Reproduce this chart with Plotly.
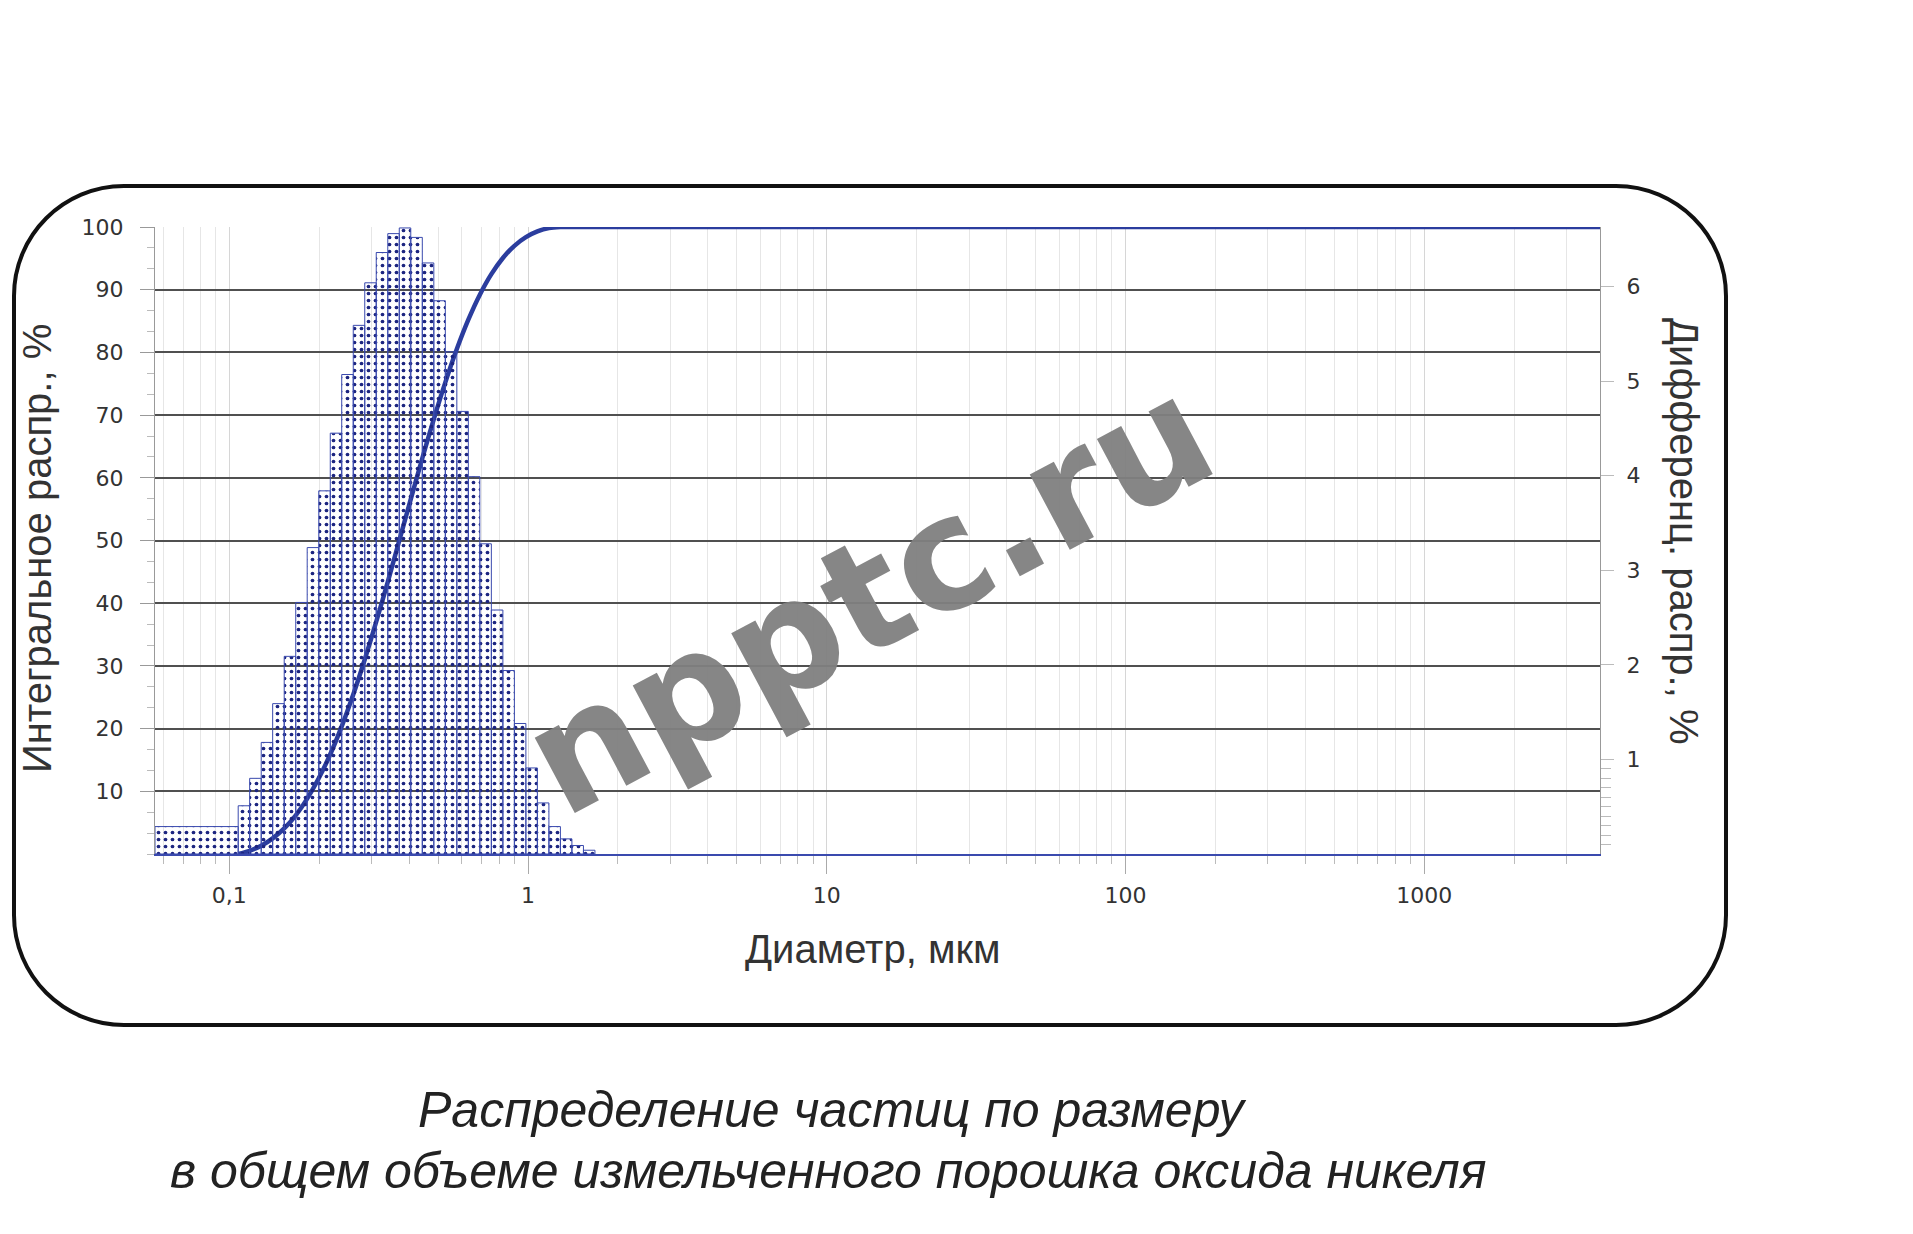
import plotly.graph_objects as go

# differential distribution, % per size class (right axis)
bin_edges = [0.1071, 0.1170, 0.1279, 0.1397, 0.1527, 0.1669, 0.1823, 0.1993,
             0.2178, 0.2379, 0.2600, 0.2841, 0.3104, 0.3393, 0.3707, 0.4051,
             0.4427, 0.4838, 0.5287, 0.5777, 0.6313, 0.6898, 0.7538, 0.8239,
             0.9003, 0.9838, 1.0750, 1.1749, 1.2838, 1.4028, 1.5330, 1.6753]
diff_pct = [0.51, 0.80, 1.18, 1.59, 2.09, 2.66, 3.24, 3.84, 4.45, 5.07, 5.59,
            6.04, 6.36, 6.56, 6.62, 6.52, 6.25, 5.85, 5.31, 4.68, 3.99, 3.28,
            2.58, 1.94, 1.38, 0.91, 0.54, 0.29, 0.16, 0.09, 0.04]
# wide class below the measuring range
low_edges = [0.0564, 0.1071]
low_pct = 0.29

# cumulative distribution, % (left axis)
cum_diam = bin_edges + [3878]
cum_pct = [0, 0.51, 1.31, 2.49, 4.08, 6.17, 8.83, 12.07, 15.91, 20.36, 25.43,
           31.02, 37.06, 43.42, 49.98, 56.6, 63.12, 69.37, 75.22, 80.53, 85.21,
           89.2, 92.48, 95.06, 97.0, 98.38, 99.29, 99.83, 100, 100, 100, 100, 100]

x_tickvals = [0.1, 1, 10, 100, 1000]
x_ticktext = ["0,1", "1", "10", "100", "1000"]
x_minor = [m * 10 ** e for e in range(-2, 4) for m in range(2, 10)]
y_tickvals = [10, 20, 30, 40, 50, 60, 70, 80, 90, 100]
y2_tickvals = [1, 2, 3, 4, 5, 6]
y2_minor = [0.1, 0.2, 0.3, 0.4, 0.5, 0.6, 0.7, 0.8, 0.9]

# page is 1913x1234, body has an 8px margin
OFF = 8
W, H = 1913 - 2 * OFF, 1234 - 2 * OFF
ML, MT = 155 - OFF, 227 - OFF
MR, MB = W - (1600 - OFF), H - (854 - OFF)
PW, PH = W - ML - MR, H - MT - MB


def px(x):
    # page pixel -> paper coordinate
    return (x - OFF - ML) / PW


def py(y):
    return (H - MB - (y - OFF)) / PH


BLUE = "#2b3d9e"
BAR_LINE = "#3a4aae"

# histogram outline as closed polygons
hx, hy = [], []
for lo, hi, h in zip([low_edges[0]] + bin_edges[:-1],
                     [low_edges[1]] + bin_edges[1:],
                     [low_pct] + diff_pct):
    hx += [lo, lo, hi, hi, lo, None]
    hy += [0, h, h, 0, 0, None]

fig = go.Figure()
fig.add_trace(go.Scatter(
    x=hx, y=hy, yaxis="y2", mode="lines", fill="toself",
    fillcolor="rgba(0,0,0,0)",
    fillpattern=dict(shape=".", fgcolor="#1c2580", bgcolor="rgba(0,0,0,0)",
                     size=7, solidity=0.22),
    line=dict(color=BAR_LINE, width=1), showlegend=False, hoverinfo="skip",
))
fig.add_trace(go.Scatter(
    x=cum_diam, y=cum_pct, mode="lines",
    line=dict(color=BLUE, width=4.5, shape="spline", smoothing=0.8),
    showlegend=False,
))

tick_font = dict(family="DejaVu Sans", size=22, color="#333333")

fig.update_layout(
    width=W, height=H,
    margin=dict(l=ML, r=MR, t=MT, b=MB),
    paper_bgcolor="white", plot_bgcolor="white",
    template="none",
    xaxis=dict(
        type="log", range=[-1.2487, 3.5886],
        tickmode="array", tickvals=x_tickvals, ticktext=x_ticktext,
        ticks="outside", ticklen=18, tickcolor="#aaaaaa", tickwidth=1,
        tickfont=tick_font, ticklabelstandoff=3,
        showgrid=True, gridcolor="#d6d6d6", gridwidth=1,
        minor=dict(tickmode="array", tickvals=x_minor, ticks="outside",
                   ticklen=8, tickcolor="#bbbbbb", showgrid=True,
                   gridcolor="#e6e6e6", gridwidth=1),
        showline=True, linecolor=BAR_LINE, linewidth=2, zeroline=False,
    ),
    yaxis=dict(
        range=[0, 100], tickmode="array", tickvals=y_tickvals,
        ticks="outside", ticklen=14, tickcolor="#999999",
        tickfont=tick_font, ticklabelstandoff=12,
        showgrid=True, gridcolor="#505050", gridwidth=1.5,
        minor=dict(dtick=10 / 3, ticks="outside", ticklen=7,
                   tickcolor="#bbbbbb", showgrid=False),
        showline=True, linecolor="#999999", linewidth=1, zeroline=False,
    ),
    yaxis2=dict(
        overlaying="y", side="right", range=[0, 6.63],
        tickmode="array", tickvals=y2_tickvals,
        ticks="outside", ticklen=13, tickcolor="#bbbbbb",
        tickfont=tick_font, ticklabelstandoff=8,
        showgrid=False, zeroline=False,
        minor=dict(tickmode="array", tickvals=y2_minor, ticks="outside",
                   ticklen=10, tickcolor="#bbbbbb", showgrid=False),
        showline=True, linecolor="#999999", linewidth=1,
    ),
)

title_font = dict(family="Liberation Sans, Arial", size=40, color="#333333")
cap_font = dict(family="Liberation Sans, Arial", size=50, color="#222222")
annos = [
    dict(text="Интегральное распр., %", x=px(37), y=py(549), textangle=-90,
         font=title_font),
    dict(text="Дифференц. распр., %", x=px(1684), y=py(531), textangle=90,
         font=title_font),
    dict(text="Диаметр, мкм", x=px(872), y=py(949), font=title_font),
    dict(text="<b>npptc.ru</b>", x=px(868), y=py(596), textangle=-28,
         font=dict(family="DejaVu Sans", size=156, color="rgba(128,128,128,0.95)")),
    dict(text="<i>Распределение частиц по размеру</i>", x=px(832), y=py(1110),
         font=cap_font),
    dict(text="<i>в общем объеме измельченного порошка оксида никеля</i>",
         x=px(828), y=py(1171), font=cap_font),
]
for a in annos:
    fig.add_annotation(xref="paper", yref="paper", showarrow=False,
                       xanchor="center", yanchor="middle", **a)

# rounded frame around the chart
x0, x1, y0, y1, r = 14, 1726, 186, 1025, 110
k = 0.5523 * r
X = lambda v: round(px(v), 5)
Y = lambda v: round(py(v), 5)
path = (
    f"M {X(x0 + r)},{Y(y0)} L {X(x1 - r)},{Y(y0)} "
    f"C {X(x1 - r + k)},{Y(y0)} {X(x1)},{Y(y0 + r - k)} {X(x1)},{Y(y0 + r)} "
    f"L {X(x1)},{Y(y1 - r)} "
    f"C {X(x1)},{Y(y1 - r + k)} {X(x1 - r + k)},{Y(y1)} {X(x1 - r)},{Y(y1)} "
    f"L {X(x0 + r)},{Y(y1)} "
    f"C {X(x0 + r - k)},{Y(y1)} {X(x0)},{Y(y1 - r + k)} {X(x0)},{Y(y1 - r)} "
    f"L {X(x0)},{Y(y0 + r)} "
    f"C {X(x0)},{Y(y0 + r - k)} {X(x0 + r - k)},{Y(y0)} {X(x0 + r)},{Y(y0)} Z"
)
fig.add_shape(type="path", path=path, xref="paper", yref="paper",
              line=dict(color="#111111", width=4))

fig.write_html("out.html")
